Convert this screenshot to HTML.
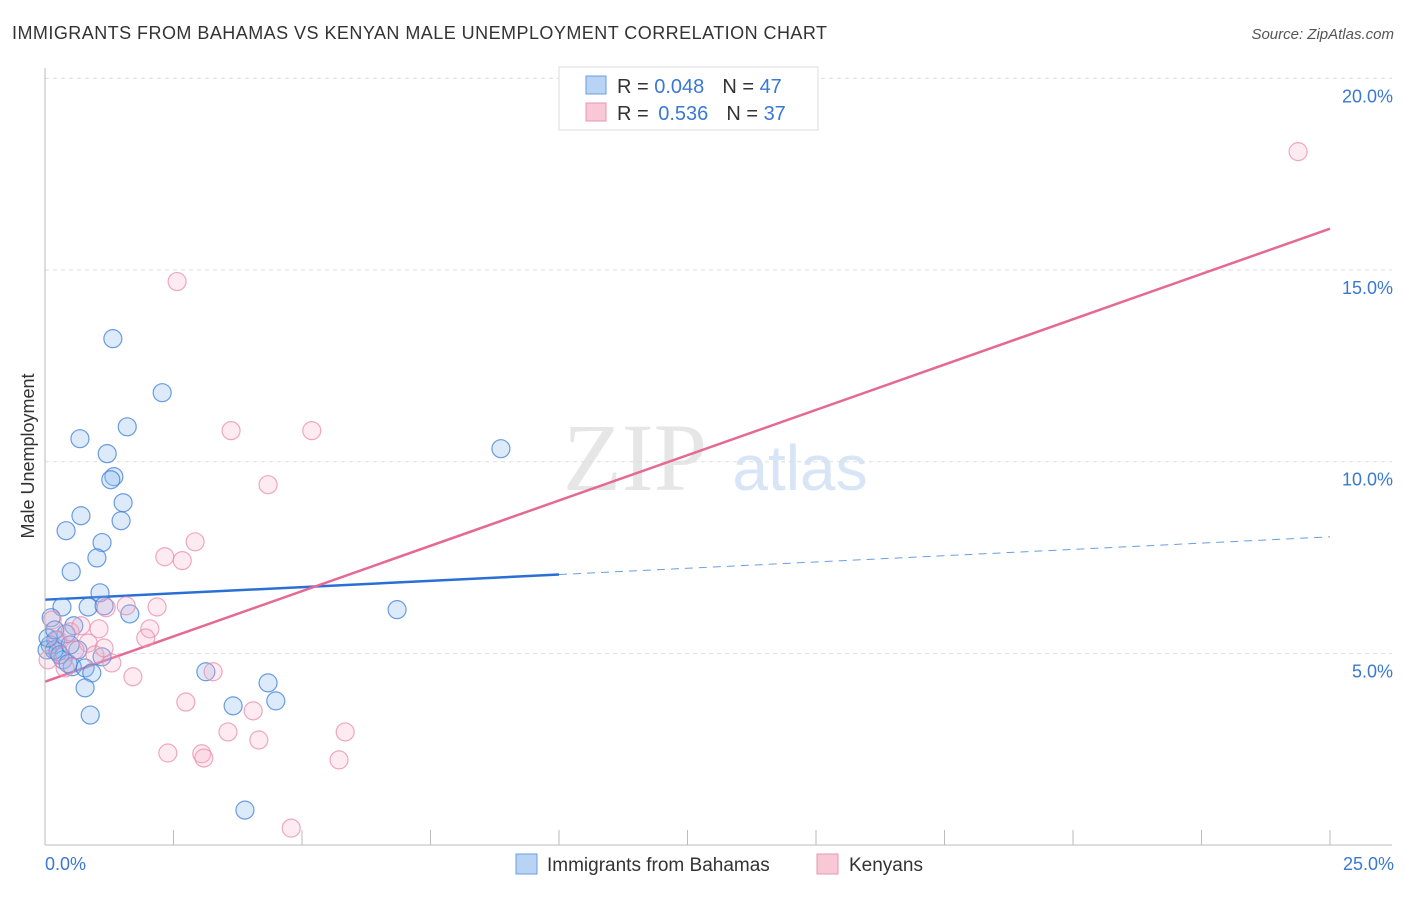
<!DOCTYPE html>
<html><head><meta charset="utf-8"><style>
body{margin:0;background:#fff;font-family:"Liberation Sans",sans-serif}
</style></head><body>
<svg id="c" width="1406" height="892" xmlns="http://www.w3.org/2000/svg" style="font-family:'Liberation Sans',sans-serif">
<text x="12" y="39" font-size="18" fill="#333" textLength="815" lengthAdjust="spacing">IMMIGRANTS FROM BAHAMAS VS KENYAN MALE UNEMPLOYMENT CORRELATION CHART</text>
<text x="1394" y="39" font-size="15" fill="#555" font-style="italic" text-anchor="end">Source: ZipAtlas.com</text>
<text x="34" y="456" font-size="18" fill="#333" transform="rotate(-90 34 456)" text-anchor="middle">Male Unemployment</text>
<text x="635" y="490" font-size="96" fill="#e6e6e6" font-family="Liberation Serif" text-anchor="middle">ZIP</text>
<text x="800" y="490" font-size="64" fill="#d8e5f6" text-anchor="middle">atlas</text>
<g id="grid"></g><g id="ticks"></g><g id="lines"></g><g id="pts"></g>
<line x1="45" y1="68" x2="45" y2="845" stroke="#bbb"/>
<line x1="45" y1="845" x2="1392" y2="845" stroke="#bbb"/>
<text x="45" y="870" font-size="18" fill="#3a78d4">0.0%</text>
<text x="1394" y="870" font-size="18" fill="#3a78d4" text-anchor="end">25.0%</text>
<g>
<rect x="559" y="67" width="259" height="63" fill="#fff" stroke="#ddd"/>
<rect x="586" y="76" width="20" height="18" fill="#b9d3f5" stroke="#6a9ee0"/>
<rect x="586" y="103" width="20" height="18" fill="#f9c8d6" stroke="#e896b0"/>
<text x="617" y="93" font-size="20" fill="#333">R = <tspan fill="#3a78d4">0.048</tspan><tspan dx="18">N = </tspan><tspan fill="#3a78d4">47</tspan></text>
<text x="617" y="120" font-size="20" fill="#333">R = <tspan dx="4" fill="#3a78d4">0.536</tspan><tspan dx="18">N = </tspan><tspan fill="#3a78d4">37</tspan></text>
</g>
<g>
<rect x="516" y="854" width="21" height="20" fill="#b9d3f5" stroke="#6a9ee0"/>
<text x="547" y="871" font-size="19" fill="#333">Immigrants from Bahamas</text>
<rect x="817" y="854" width="21" height="20" fill="#f9c8d6" stroke="#e896b0"/>
<text x="849" y="871" font-size="19" fill="#333">Kenyans</text>
</g>
</svg>
<script>
const yTicks=[5,10,15,20];
const yTickLabels=["5.0%","10.0%","15.0%","20.0%"];
const xTicks=[2.5,5,7.5,10,12.5,15,17.5,20,22.5,25];
const blueX=[1.32,2.28,0.68,1.60,1.21,1.34,1.28,1.52,0.70,1.48,0.41,1.11,1.01,0.51,1.07,0.33,0.84,1.15,1.65,0.56,0.12,0.41,0.21,0.10,0.04,0.25,0.35,0.53,0.78,0.91,0.78,0.88,1.11,3.13,4.34,4.49,3.66,3.89,6.85,8.87,0.18,0.29,0.45,0.06,0.64,0.19,0.49];
const blueY=[13.21,11.80,10.60,10.91,10.21,9.61,9.53,8.93,8.59,8.46,8.20,7.89,7.49,7.13,6.58,6.21,6.21,6.24,6.03,5.72,5.93,5.51,5.35,5.22,5.09,5.04,4.83,4.65,4.62,4.49,4.10,3.39,4.91,4.52,4.23,3.76,3.63,0.91,6.14,10.34,5.09,4.96,4.73,5.40,5.09,5.61,5.22];
const pinkX=[24.38,2.57,3.62,5.19,4.34,2.92,2.33,2.67,1.58,2.18,1.19,0.70,1.05,2.04,1.96,0.84,0.58,0.97,1.30,0.06,0.39,3.27,1.71,2.74,4.05,3.56,4.16,5.84,2.39,3.05,3.09,5.72,4.79,0.25,0.14,0.49,1.15];
const pinkY=[18.09,14.70,10.81,10.81,9.40,7.91,7.52,7.42,6.24,6.21,6.19,5.72,5.64,5.64,5.40,5.27,5.09,4.96,4.75,4.83,4.62,4.52,4.39,3.73,3.50,2.95,2.74,2.95,2.40,2.38,2.27,2.22,0.44,5.35,5.87,5.56,5.14];
const blueTrend=[6.40,8.04];
const pinkTrend=[4.26,16.08];
const blueSolidEnd=10;
const NS="http://www.w3.org/2000/svg";
const sx=v=>45+v*51.4, sy=v=>845-v*38.33;
function mk(t,a,p){const e=document.createElementNS(NS,t);for(const k in a)e.setAttribute(k,a[k]);document.getElementById(p).appendChild(e);return e;}
yTicks.forEach((t,i)=>{
 const l=mk('line',{x1:45,x2:1392,y1:sy(t),y2:sy(t),stroke:'#ddd','stroke-dasharray':'4 4'},'grid');
 
 
 const tx=mk('text',{x:1393,y:sy(t)+24,'font-size':18,fill:'#3a78d4','text-anchor':'end'},'grid');
 tx.textContent=yTickLabels[i];
 
 
});
xTicks.forEach(t=>{
 const l=mk('line',{x1:sx(t),x2:sx(t),y1:830,y2:845,stroke:'#bbb'},'ticks');
 
 
});
const tl=v=>blueTrend[0]+(blueTrend[1]-blueTrend[0])*v/25;
const pl=v=>pinkTrend[0]+(pinkTrend[1]-pinkTrend[0])*v/25;
let e=mk('line',{x1:sx(0),y1:sy(tl(0)),x2:sx(blueSolidEnd),y2:sy(tl(blueSolidEnd)),stroke:'#2a6fd6','stroke-width':2.5},'lines');


e=mk('line',{x1:sx(blueSolidEnd),y1:sy(tl(blueSolidEnd)),x2:sx(25),y2:sy(tl(25)),stroke:'#6a9ee0','stroke-width':1,'stroke-dasharray':'8 6'},'lines');


e=mk('line',{x1:sx(0),y1:sy(pl(0)),x2:sx(25),y2:sy(pl(25)),stroke:'#e46a94','stroke-width':2.5},'lines');


blueX.forEach((x,i)=>{
 const c=mk('circle',{cx:sx(x),cy:sy(blueY[i]),r:9,fill:'rgba(140,185,240,0.3)',stroke:'rgba(60,125,215,0.75)','stroke-width':1.2},'pts');
 
 
});
pinkX.forEach((x,i)=>{
 const c=mk('circle',{cx:sx(x),cy:sy(pinkY[i]),r:9,fill:'rgba(248,175,200,0.25)',stroke:'rgba(232,140,172,0.75)','stroke-width':1.2},'pts');
 
 
});
</script>
</body></html>
